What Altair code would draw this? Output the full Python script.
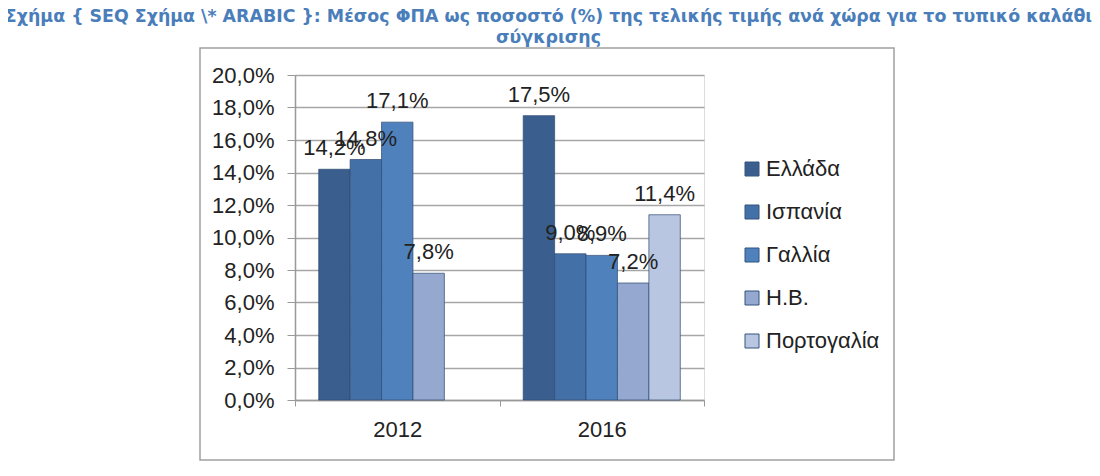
import altair as alt
import pandas as pd

years = ["2012", "2016"]
countries = ["Ελλάδα", "Ισπανία", "Γαλλία", "Η.Β.", "Πορτογαλία"]
values_2012 = [14.2, 14.8, 17.1, 7.8, None]
values_2016 = [17.5, 9.0, 8.9, 7.2, 11.4]
colors = ["#3A5F8E", "#4470A8", "#4F81BD", "#95A8CF", "#B9C6E1"]
y_ticks = [0, 2, 4, 6, 8, 10, 12, 14, 16, 18, 20]
title_lines = [
    "Σχήμα { SEQ Σχήμα \\* ARABIC }: Μέσος ΦΠΑ ως ποσοστό (%) της τελικής τιμής ανά χώρα για το τυπικό καλάθι",
    "σύγκρισης",
]

rows = []
for yr, vals in zip(years, [values_2012, values_2016]):
    for c, v in zip(countries, vals):
        if v is not None:
            rows.append({"year": yr, "country": c, "value": v,
                         "label": f"{v:.1f}%".replace(".", ",")})
df = pd.DataFrame(rows)

FONT = "Liberation Sans Narrow, Arial Narrow, Liberation Sans, sans-serif"

x_enc = alt.X("year:N", scale=alt.Scale(domain=years, paddingInner=0, paddingOuter=0),
              axis=alt.Axis(title=None, labelAngle=0, labelFontSize=22, labelFont=FONT,
                            labelColor="#222222", labelPadding=13, tickSize=6,
                            tickColor="#999999", tickBand="extent",
                            domainColor="#999999", domainWidth=1.5, grid=False))
xo_enc = alt.XOffset("country:N", scale=alt.Scale(domain=countries, paddingInner=0, paddingOuter=0.755))
y_enc = alt.Y("value:Q", scale=alt.Scale(domain=[0, 20]),
              axis=alt.Axis(title=None, values=y_ticks, labelOverlap=False,
                            labelExpr="replace(format(datum.value, '.1f'), '.', ',') + '%'",
                            labelFontSize=22, labelFont=FONT, labelColor="#222222",
                            labelPadding=13, tickSize=8, tickColor="#999999",
                            domainColor="#999999", domainWidth=1.5,
                            gridColor="#A6A6A6", gridWidth=1.5))

base = alt.Chart(df)

bars = base.mark_bar(stroke="#2E4A70", strokeWidth=1, strokeOpacity=0.7).encode(
    x=x_enc, xOffset=xo_enc, y=y_enc,
    color=alt.Color("country:N", scale=alt.Scale(domain=countries, range=colors),
                    legend=alt.Legend(title=None, orient="none", legendX=446, legendY=83,
                                      symbolType="square", symbolSize=196,
                                      symbolStrokeColor="#33557F", symbolStrokeWidth=1,
                                      labelFontSize=22, labelFont=FONT, labelColor="#222222",
                                      labelOffset=3, rowPadding=21)),
)

labels = base.mark_text(baseline="alphabetic", dy=-14, fontSize=22, font=FONT, color="#222222").encode(
    x=x_enc, xOffset=xo_enc, y=y_enc, text="label:N"
)

frame = alt.Chart(pd.DataFrame({"a": [0]})).mark_rect(
    fill=None, stroke="#A0A0A0", strokeWidth=1.5
).encode(x=alt.value(-95), x2=alt.value(599), y=alt.value(-27), y2=alt.value(385))

chart = alt.layer(frame, bars, labels).properties(
    width=409, height=325,
    title=alt.TitleParams(title_lines, anchor="middle", frame="group", dx=49, offset=1,
                          fontSize=17.4, font="DejaVu Sans, sans-serif",
                          fontWeight="bold", color="#4A7EBB", lineHeight=21),
    autosize=alt.AutoSizeParams(type="none"),
    padding={"left": 287, "top": 67, "right": 388, "bottom": 68},
).configure_view(stroke=None, fill="#EAEEF5").configure(background="white").configure_axisY(
    labelOverlap=False
)

chart.save("out.html", embed_options={"renderer": "svg", "actions": False})
